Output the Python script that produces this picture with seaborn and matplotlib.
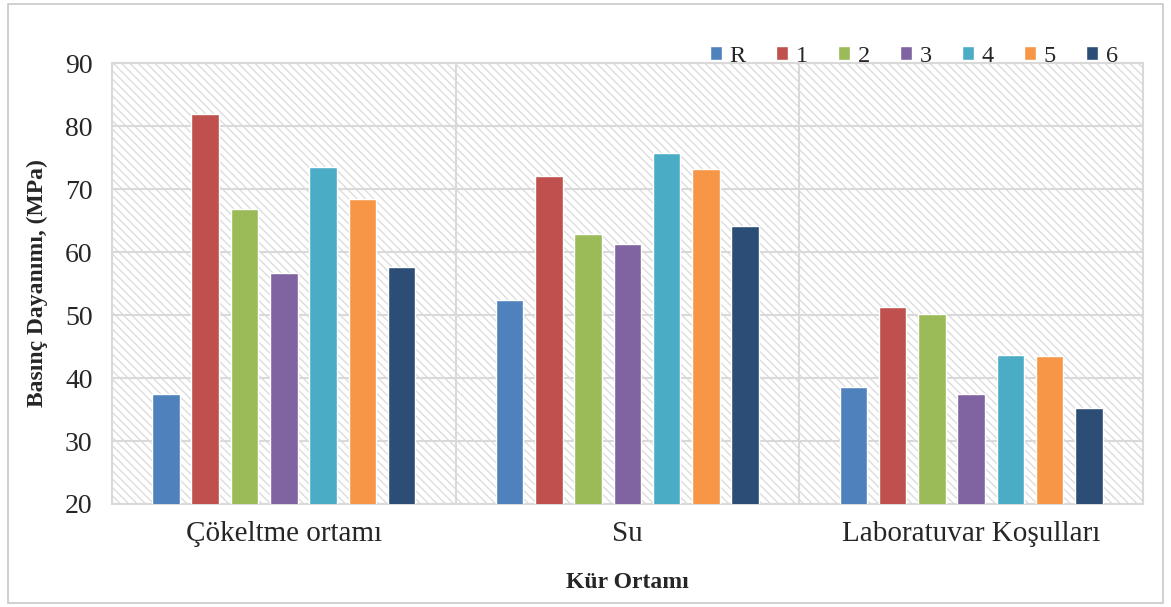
import pandas as pd
import numpy as np
import matplotlib
matplotlib.use("Agg")
import matplotlib.pyplot as plt
import seaborn as sns
from matplotlib.patches import Rectangle

sns.set_style("white")
plt.rcParams['font.family'] = ['Liberation Serif', 'DejaVu Serif']
plt.rcParams['hatch.linewidth'] = 1.0

# data
ortam = ["Çökeltme ortamı", "Su", "Laboratuvar Koşulları"]
seri = ["R", "1", "2", "3", "4", "5", "6"]
deger_R = [37.5, 52.4, 38.6]
deger_1 = [82.0, 72.0, 51.2]
deger_2 = [66.8, 62.8, 50.1]
deger_3 = [56.6, 61.3, 37.5]
deger_4 = [73.5, 75.8, 43.7]
deger_5 = [68.4, 73.2, 43.5]
deger_6 = [57.7, 64.1, 35.2]
renkler = ["#4F81BD", "#C0504D", "#9BBB59", "#8064A2", "#4BACC6", "#F79646", "#2C4D75"]

tum = [deger_R, deger_1, deger_2, deger_3, deger_4, deger_5, deger_6]
rows = []
for s, vals in zip(seri, tum):
    for o, v in zip(ortam, vals):
        rows.append({"Ortam": o, "Seri": s, "Deger": v})
df = pd.DataFrame(rows)

fig = plt.figure(figsize=(11.71, 6.07), dpi=100)
ax = fig.add_axes([0.0956, 0.1697, 0.8804, 0.7263])

# hatched background of plot area
ax.add_patch(Rectangle((0, 0), 1, 1, transform=ax.transAxes, facecolor="white",
                       edgecolor="#DCDCDC", hatch="\\\\\\\\", linewidth=0, zorder=0))

sns.barplot(data=df, x="Ortam", y="Deger", hue="Seri", hue_order=seri,
            order=ortam, palette=renkler, width=0.8, gap=0.3,
            saturation=1, ax=ax, zorder=3)

ax.set_ylim(20, 90)
ax.set_xlim(-0.5, 2.5)
ax.set_yticks(range(20, 91, 10))
ax.set_xticks([0.5, 1.5], minor=True)
ax.grid(axis="y", color="#D9D9D9", linewidth=1.5, zorder=1)
ax.grid(axis="x", which="minor", color="#D9D9D9", linewidth=1.5, zorder=1)
ax.set_axisbelow(True)
for sp in ax.spines.values():
    sp.set_color("#D9D9D9")
    sp.set_linewidth(1.5)
ax.tick_params(axis="both", which="both", length=0)
ax.tick_params(axis="y", labelsize=20, pad=14)
ax.tick_params(axis="x", labelsize=21, pad=12)

ax.set_xlabel("Kür Ortamı", fontsize=17, fontweight="bold", labelpad=18)
ax.set_ylabel("Basınç Dayanımı, (MPa)", fontsize=17, fontweight="bold", labelpad=12)

ax.legend(loc="lower right", bbox_to_anchor=(0.985, 0.97), ncol=7, frameon=False,
          fontsize=17.5, handlelength=0.5, handleheight=0.5, handletextpad=0.3,
          columnspacing=1.25, borderaxespad=0)

fig.patches.append(Rectangle((0.007, 0.006), 0.986, 0.988, transform=fig.transFigure,
                             fill=False, edgecolor="#C8C8C8", linewidth=1.2))

plt.savefig("out.png", dpi=100)
